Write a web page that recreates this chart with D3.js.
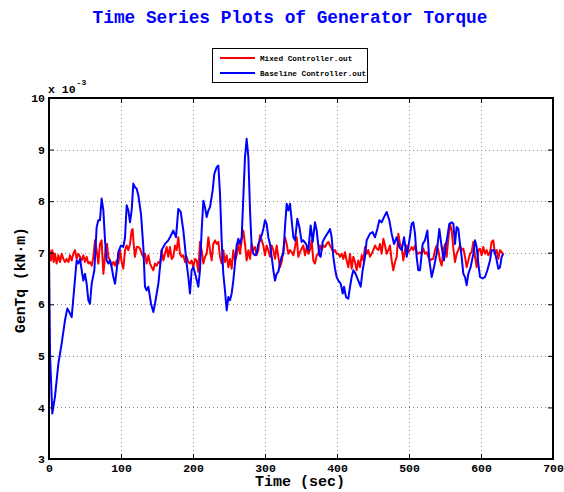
<!DOCTYPE html>
<html>
<head>
<meta charset="utf-8">
<script src="https://cdn.jsdelivr.net/npm/d3@7"></script>
<style>
html,body{margin:0;padding:0;background:#fff;}
svg{display:block;}
text{font-family:"Liberation Mono","Courier New",monospace;font-weight:bold;}
</style>
</head>
<body>
<svg id="chart" width="564" height="492"></svg>
<script>
// ---- data (GenTq, units of 1e-3 kN·m) ----
const xTicks = [0, 100, 200, 300, 400, 500, 600, 700];
const yTicks = [3, 4, 5, 6, 7, 8, 9, 10];
const seriesNames = ["Mixed Controller.out", "Baseline Controller.out"];

const mixedTime = [0,0.9,2.8,4.6,6.5,8.3,10.6,13.0,15.3,17.6,19.9,22.2,24.5,26.9,29.2,31.5,33.8,36.1,38.4,40.7,43.1,45.4,47.7,50.0,52.3,54.6,56.9,59.3,61.6,63.9,66.2,68.5,70.8,73.1,75.5,76.9,78.7,80.6,82.4,84.7,87.0,89.4,91.7,94.0,96.3,98.6,100.9,103.2,105.6,107.9,110.2,112.5,114.8,116.2,117.6,119.4,121.8,124.1,126.4,128.7,131.0,133.3,135.6,138.0,140.3,142.6,144.9,147.2,149.5,151.9,154.2,156.5,158.8,161.1,163.4,165.7,
168.1,170.4,172.7,175.0,177.3,179.6,181.9,184.3,186.6,188.9,191.2,193.5,195.8,198.1,200.5,202.8,205.1,207.4,209.7,212.0,214.4,216.7,219.0,221.3,223.6,225.9,228.2,230.6,232.9,235.2,237.5,239.8,242.1,244.4,246.8,249.1,251.4,253.7,256.0,258.3,260.6,263.0,265.3,267.6,269.9,272.2,274.5,276.9,279.2,281.5,283.8,286.1,288.4,290.7,293.1,295.4,297.7,300.0,302.3,304.6,306.9,309.3,311.6,313.9,316.2,318.5,320.8,323.1,325.5,327.8,330.1,332.4,
334.7,337.0,339.4,341.7,344.0,346.3,348.6,350.9,353.2,355.6,357.9,360.2,362.5,364.8,367.1,369.4,371.8,374.1,376.4,378.7,381.0,383.3,385.6,388.0,390.3,392.6,394.9,397.2,399.5,401.9,404.2,406.5,408.8,411.1,413.4,415.7,418.1,420.4,422.7,425.0,427.3,429.6,431.9,434.3,436.6,438.9,441.2,443.5,445.8,448.1,450.5,452.8,455.1,457.4,459.7,462.0,464.4,466.7,469.0,471.3,473.6,475.9,478.2,480.6,482.9,485.2,487.5,489.8,492.1,494.4,496.8,499.1,
501.4,503.7,506.0,508.3,510.6,512.9,515.3,517.6,519.9,522.2,524.5,526.8,529.2,531.5,533.8,536.1,538.4,540.7,543.1,545.4,547.7,550.0,552.3,554.6,556.9,559.3,561.6,563.9,566.2,568.5,570.8,573.1,575.5,577.8,580.1,582.4,584.7,587.0,589.4,591.7,594.0,596.3,598.6,600.9,603.2,605.6,607.9,610.2,612.5,614.8,617.1,619.4,621.8,624.1,626.4,628.7,631.0];
const mixedTq = [7.00,7.05,6.85,7.05,6.82,6.98,6.79,6.95,6.82,6.98,6.88,6.82,6.88,6.82,6.95,6.85,6.98,7.05,6.88,6.98,6.92,6.85,6.95,6.82,6.92,6.79,6.82,6.75,6.92,7.24,7.05,6.79,7.17,7.24,6.59,6.79,7.11,7.17,6.92,6.85,6.75,6.82,6.75,6.85,6.79,7.05,6.82,6.69,7.05,7.14,7.05,7.17,7.43,7.46,7.17,6.92,7.11,7.11,7.08,6.98,6.92,6.98,6.79,6.95,6.79,6.72,6.66,6.79,6.75,6.82,6.79,7.05,6.85,6.98,7.11,6.92,
7.11,6.88,6.92,7.14,7.05,7.30,6.98,6.92,6.95,6.82,6.92,6.82,6.79,6.85,6.72,6.88,6.85,6.63,7.21,7.05,6.79,6.92,6.98,7.30,7.05,6.85,7.17,7.24,7.17,7.21,6.92,6.79,7.05,6.82,6.95,6.72,6.88,6.69,7.05,6.85,6.95,7.17,6.98,7.24,7.43,7.17,6.85,7.05,6.88,7.17,7.05,7.11,6.95,7.05,7.34,7.24,7.14,6.95,7.14,7.05,6.92,7.14,7.05,6.88,7.14,6.92,6.72,6.82,7.05,7.30,7.17,6.98,
7.05,7.01,6.95,7.11,7.30,6.92,7.01,7.08,7.14,6.95,7.11,6.98,7.05,7.24,6.85,6.79,6.95,6.98,7.14,7.05,7.14,7.11,7.17,7.21,7.14,7.08,7.01,7.05,6.98,6.98,6.92,6.98,6.88,7.01,6.85,6.72,6.98,6.69,6.92,6.82,6.66,6.85,6.72,6.95,6.85,7.11,6.98,7.05,6.92,6.98,7.05,7.14,7.08,7.05,7.17,6.98,7.27,7.14,6.98,7.05,7.14,6.85,6.66,6.82,6.92,7.37,7.17,7.11,6.85,7.05,7.14,7.01,
7.05,7.11,7.05,7.14,7.01,6.98,7.01,6.98,7.08,6.98,7.01,6.92,6.85,6.88,6.88,7.05,7.14,7.05,6.85,6.75,7.05,7.17,6.92,7.27,7.56,7.43,7.08,6.82,6.98,7.05,7.14,7.05,7.08,6.92,6.72,6.85,6.98,7.01,7.21,6.92,6.72,7.05,7.08,6.95,7.11,6.98,7.05,6.95,7.01,7.21,7.24,6.98,7.05,6.88,7.05,7.01,6.98];

const baseTime = [0,1.5,4.6,8.3,13.0,17.6,22.2,25.5,29.2,31.5,35.2,38.4,40.7,43.1,45.4,47.7,50.0,52.3,54.6,56.9,59.3,63.0,66.2,68.5,70.8,73.1,75.5,77.8,80.1,82.4,84.7,87.0,89.4,91.7,94.0,96.3,100.0,103.2,105.6,107.9,110.2,112.5,114.8,117.1,119.4,121.8,124.1,127.8,131.0,133.3,135.6,138.0,141.7,144.9,147.2,151.9,156.5,161.1,165.7,
168.1,172.7,176.4,179.6,182.9,186.6,191.2,193.5,195.8,198.1,200.5,204.2,207.4,209.7,212.0,214.4,216.7,219.0,221.3,223.6,227.3,229.6,232.9,235.2,237.5,239.8,242.1,244.4,246.8,249.1,251.4,253.7,256.0,258.3,260.6,263.0,265.3,267.6,269.9,272.2,274.5,276.9,279.2,281.5,283.8,286.1,288.4,290.7,293.1,295.4,297.7,300.0,302.3,304.6,306.9,309.3,311.6,313.9,316.2,318.5,320.8,323.1,325.5,327.8,330.1,332.4,
334.7,339.4,341.7,344.9,347.7,350.9,353.2,356.9,360.2,363.4,366.2,369.4,371.8,375.5,377.3,380.1,383.3,386.6,390.3,392.6,394.9,397.2,399.5,401.9,405.1,407.9,409.7,412.5,415.7,418.1,420.4,422.7,425.9,429.6,432.9,435.6,438.9,441.2,445.8,449.5,452.8,456.0,458.8,462.0,465.3,469.0,472.7,475.9,479.2,482.9,486.6,489.8,493.1,496.8,500.5,
503.7,506.0,508.3,510.6,512.9,515.3,519.0,522.2,525.5,528.2,531.5,534.7,538.4,542.1,545.4,548.6,551.4,553.2,556.0,559.3,561.6,563.9,566.2,568.5,570.8,573.1,575.5,577.8,580.1,582.4,585.6,589.4,591.7,594.0,596.3,598.6,602.3,605.6,608.8,612.5,614.8,618.1,620.8,624.1,626.4,628.7,631.0];
const baseTq = [7.00,5.00,3.88,4.21,4.85,5.24,5.69,5.92,5.82,5.75,6.34,6.85,6.79,6.88,6.66,6.46,6.59,6.40,6.08,6.01,6.40,6.66,7.50,7.63,7.63,8.05,7.82,7.24,6.85,6.79,6.85,6.72,6.53,6.40,6.66,7.01,7.14,7.11,7.30,7.92,7.82,7.59,7.82,8.34,8.27,8.24,8.11,7.75,7.11,6.34,6.27,6.34,6.01,5.85,6.01,6.40,7.05,7.17,7.24,
7.30,7.43,7.30,7.85,7.79,7.43,6.79,6.53,6.21,6.66,6.72,6.53,6.34,6.66,7.43,8.01,7.88,7.69,7.82,7.88,8.21,8.53,8.66,8.69,8.14,7.24,6.59,6.27,5.88,6.14,6.08,6.21,6.46,6.79,7.14,7.27,7.17,7.30,8.08,8.85,9.21,8.85,7.82,7.11,6.98,6.95,6.98,7.17,7.24,7.34,7.46,7.63,7.56,7.30,7.17,6.92,6.66,6.46,6.59,6.63,6.79,6.92,6.98,7.50,7.95,7.82,
7.95,7.30,7.24,7.66,7.50,7.21,7.24,7.17,7.05,7.53,7.21,7.59,7.43,6.95,6.92,7.21,7.30,7.37,7.46,7.30,6.92,6.69,6.53,6.46,6.40,6.21,6.34,6.14,6.11,6.34,6.53,6.66,6.59,6.46,6.34,6.66,6.92,7.24,7.37,7.40,7.30,7.46,7.63,7.59,7.69,7.79,7.63,7.37,7.17,7.30,7.11,7.05,7.30,6.92,7.24,
7.56,7.59,7.37,6.92,6.66,6.66,7.17,7.24,7.43,6.85,6.53,6.72,6.98,7.46,7.11,6.85,7.17,7.30,7.56,7.59,7.56,7.17,7.50,7.46,7.17,6.92,6.59,6.53,6.37,6.59,6.72,6.98,7.24,7.11,6.79,6.53,6.50,6.53,6.66,6.85,7.05,7.05,6.92,6.69,6.72,6.92,6.98];

// ---- layout ----
const svg = d3.select("#chart");
const L = 49, R = 553, T = 98, B = 459;
const x = d3.scaleLinear().domain([0, 700]).range([L, R]);
const y = d3.scaleLinear().domain([3, 10]).range([B, T]);

// title
svg.append("text").attr("x", 290).attr("y", 23).attr("text-anchor", "middle")
  .attr("font-size", 17.8).attr("fill", "#0000ff")
  .text("Time Series Plots of Generator Torque");

// grid
const grid = svg.append("g").attr("stroke", "#8c8c8c").attr("stroke-width", 1).attr("stroke-dasharray", "1,3");
grid.selectAll(".gx").data(xTicks.filter(d => d > 0 && d < 700)).join("line")
  .attr("x1", d => Math.round(x(d)) + 0.5).attr("x2", d => Math.round(x(d)) + 0.5)
  .attr("y1", T).attr("y2", B);
grid.selectAll(".gy").data(yTicks.filter(d => d > 3 && d < 10)).join("line")
  .attr("y1", d => Math.round(y(d)) + 0.5).attr("y2", d => Math.round(y(d)) + 0.5)
  .attr("x1", L).attr("x2", R);

// series
const line = d3.line().x(d => x(d[0])).y(d => y(d[1]));
const mixed = mixedTime.map((t, i) => [t, mixedTq[i]]);
const base = baseTime.map((t, i) => [t, baseTq[i]]);
svg.append("path").datum(mixed).attr("d", line).attr("fill", "none")
  .attr("stroke", "#ff0000").attr("stroke-width", 2).attr("stroke-linejoin", "round");
svg.append("path").datum(base).attr("d", line).attr("fill", "none")
  .attr("stroke", "#0000ff").attr("stroke-width", 2).attr("stroke-linejoin", "round");

// axes
function styleAxis(g, showText) {
  g.select(".domain").remove();
  g.selectAll(".tick line").attr("stroke", "#000").attr("stroke-width", 1);
  g.selectAll(".tick text").attr("font-size", 11.5).attr("fill", "#000")
    .attr("font-family", "'Liberation Mono', monospace").attr("font-weight", "bold");
  if (!showText) g.selectAll(".tick text").remove();
}
svg.append("g").attr("transform", `translate(0,${B})`)
  .call(d3.axisBottom(x).tickValues(xTicks).tickSize(-5).tickPadding(4.5).tickFormat(d3.format("d")))
  .call(g => styleAxis(g, true));
svg.append("g").attr("transform", `translate(0,${T})`)
  .call(d3.axisTop(x).tickValues(xTicks).tickSize(-5))
  .call(g => styleAxis(g, false));
svg.append("g").attr("transform", `translate(${L},0)`)
  .call(d3.axisLeft(y).tickValues(yTicks).tickSize(-5).tickPadding(4).tickFormat(d3.format("d")))
  .call(g => styleAxis(g, true));
svg.append("g").attr("transform", `translate(${R},0)`)
  .call(d3.axisRight(y).tickValues(yTicks).tickSize(-5))
  .call(g => styleAxis(g, false));

// frame
svg.append("rect").attr("x", L).attr("y", T).attr("width", R - L).attr("height", B - T)
  .attr("fill", "none").attr("stroke", "#000").attr("stroke-width", 2);

// exponent label
const ex = svg.append("text").attr("x", 48).attr("y", 92.5).attr("font-size", 11.5).attr("fill", "#000");
ex.append("tspan").text("x 10");
ex.append("tspan").attr("font-size", 8).attr("dy", -8).attr("dx", 1).text("-3");

// axis titles
svg.append("text").attr("x", 300).attr("y", 486).attr("text-anchor", "middle")
  .attr("font-size", 15).attr("fill", "#000").text("Time (sec)");
svg.append("text").attr("transform", "translate(25,280) rotate(-90)").attr("text-anchor", "middle")
  .attr("font-size", 14.7).attr("fill", "#000").text("GenTq (kN·m)");

// legend
const lg = svg.append("g");
lg.append("rect").attr("x", 212.5).attr("y", 48.5).attr("width", 155).attr("height", 34)
  .attr("fill", "#fff").attr("stroke", "#000").attr("stroke-width", 1);
const legendColors = ["#ff0000", "#0000ff"];
seriesNames.forEach((name, i) => {
  const yy = 58 + i * 15;
  lg.append("line").attr("x1", 220).attr("x2", 255).attr("y1", yy).attr("y2", yy)
    .attr("stroke", legendColors[i]).attr("stroke-width", 2);
  lg.append("text").attr("x", 260).attr("y", yy + 2.7).attr("font-size", 7.7).attr("fill", "#000").text(name);
});
</script>
</body>
</html>
